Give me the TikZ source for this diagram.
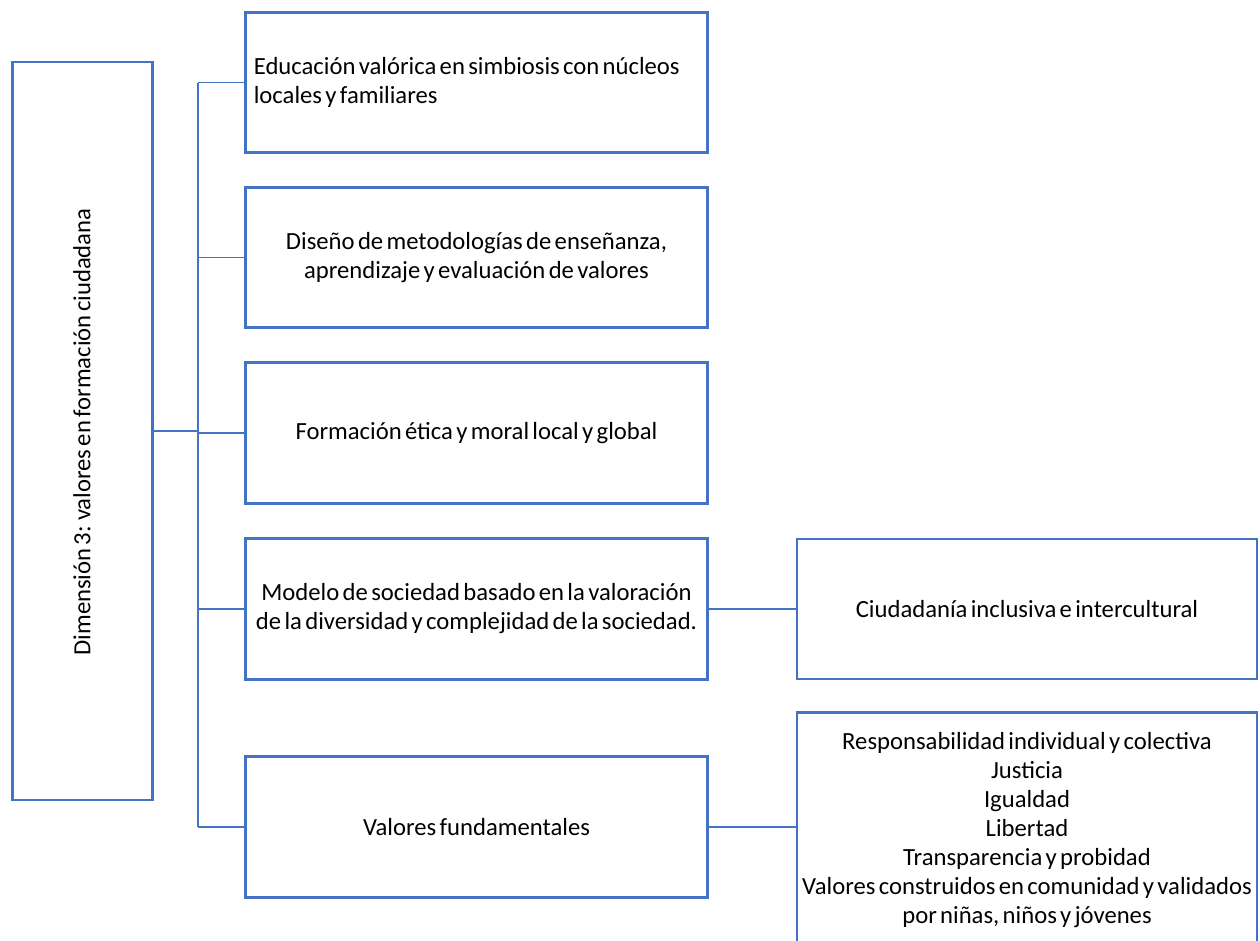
\documentclass[tikz,border=0pt]{standalone}
\usepackage{fontspec}
\setmainfont{Carlito}[WordSpace=0.6]
\usepackage{tikz}
\usetikzlibrary{positioning}
\definecolor{boxblue}{HTML}{4472C4}

\begin{document}
\begin{tikzpicture}[
            x=0.75pt,y=-0.75pt,
            txt/.style={font=\fontsize{18.5}{21.75}\selectfont},
            box/.style={draw=boxblue,line width=2.2pt,rectangle,txt},
            mid/.style={box,minimum width=347pt,minimum height=105.5pt,text width=334pt,inner xsep=6.5pt,align=flush center},
            side/.style={box,minimum width=345pt,minimum height=105pt,text width=345pt,inner xsep=0pt,align=flush center},
            conn/.style={draw=boxblue,line width=1.4pt}
          ]
          \useasboundingbox (0,0) rectangle (1260,940);

          %root
          \node[box,minimum width=105.5pt,minimum height=553.5pt] (root) at (82.5,431) {};
          \node[rotate=90,txt] (rootlab) at (82,432) {Dimensión 3: valores en formación ciudadana};

          %branches
          \node[mid,align=flush left] (m1) at (476.5,82.5) {Educación valórica en simbiosis con núcleos\\locales y familiares};
          \node[mid] (m2) at (476.5,257.5) {Diseño de metodologías de enseñanza,\\aprendizaje y evaluación de valores};
          \node[mid] (m3) at (476.5,433) {Formación ética y moral local y global};
          \node[mid] (m4) at (476.5,609) {Modelo de sociedad basado en la valoración\\de la diversidad y complejidad de la sociedad.};
          \node[mid] (m5) at (476.5,827) {Valores fundamentales};

          %leaves
          \node[side] (s4) at (1027,609) {Ciudadanía inclusiva e intercultural};
          \node[side,minimum height=176pt] (s5) at (1027,830) {Responsabilidad individual y colectiva\\Justicia\\Igualdad\\Libertad\\Transparencia y probidad\\Valores construidos en comunidad y validados\\por niñas, niños y jóvenes};

          %trunk
          \coordinate (top) at (198,82.5);
          \coordinate (bot) at (198,827);
          \path[conn] (root.east) -- (root.east -| top)
          (top) -- (bot)
          (top) -- (m1.west)
          (m2.west -| top) -- (m2.west)
          (m3.west -| top) -- (m3.west)
          (m4.west -| top) -- (m4.west)
          (bot) -- (m5.west)
          (m4.east) -- (s4.west)
          (m5.east) -- (m5.east -| s5.west)
          ;

      \end{tikzpicture}
\end{document}
